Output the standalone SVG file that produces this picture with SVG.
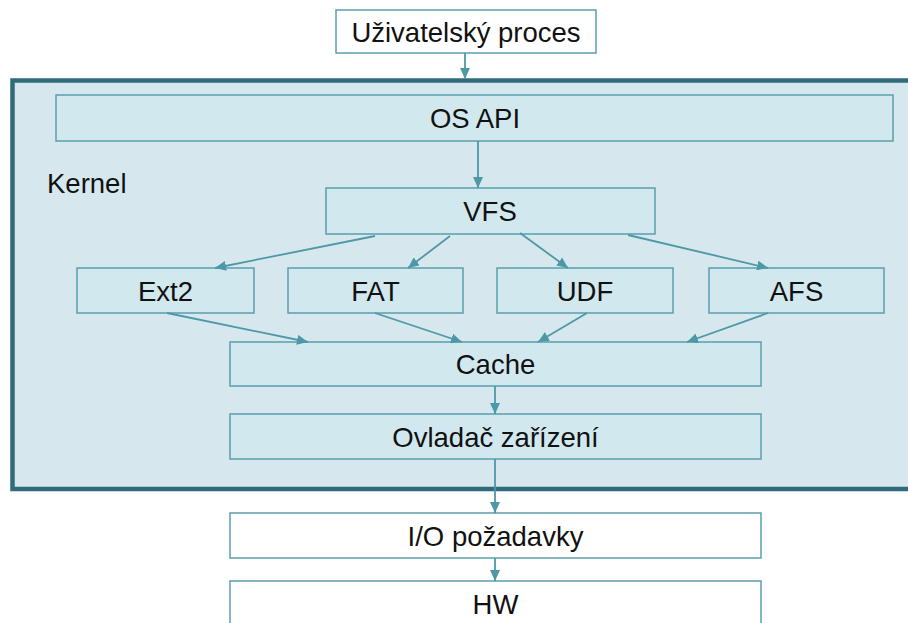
<svg xmlns="http://www.w3.org/2000/svg" width="908" height="623" viewBox="0 0 908 623">
<style>
.box{fill:#d1e8ef;stroke:#5a9fad;stroke-width:1.5}
.wbox{fill:#ffffff;stroke:#5a9fad;stroke-width:1.5}
.lbl{font-family:"Liberation Sans",Arial,sans-serif;font-size:27.5px;fill:#111;text-anchor:middle}
.con{stroke:#4d98a6;stroke-width:1.8;fill:none;marker-end:url(#ah)}
</style>
<defs>
<marker id="ah" markerUnits="userSpaceOnUse" markerWidth="12" markerHeight="10" refX="11" refY="5" orient="auto">
<path d="M0,0 L11,5 L0,10 Z" fill="#4d98a6"/>
</marker>
</defs>
<rect width="908" height="623" fill="#ffffff"/>
<g id="kernel">
<rect x="12.5" y="80.5" width="910" height="408.5" fill="#d6e8ee" stroke="#2f6b7b" stroke-width="4.5"/>
<text x="47" y="193" font-family="Liberation Sans,Arial,sans-serif" font-size="27.5" fill="#111">Kernel</text>
</g>
<g id="user">
<rect class="wbox" x="336" y="10" width="260" height="43"/>
<text class="lbl" x="466" y="41.5">Uživatelský proces</text>
</g>
<g id="osapi">
<rect class="box" x="56" y="95" width="837" height="46"/>
<text class="lbl" x="475" y="128">OS API</text>
</g>
<g id="vfs">
<rect class="box" x="326" y="188" width="329" height="46"/>
<text class="lbl" x="490" y="221">VFS</text>
</g>
<g id="ext2">
<rect class="box" x="77" y="268" width="177" height="45"/>
<text class="lbl" x="165.5" y="300.5">Ext2</text>
</g>
<g id="fat">
<rect class="box" x="288" y="268" width="175" height="45"/>
<text class="lbl" x="375.5" y="300.5">FAT</text>
</g>
<g id="udf">
<rect class="box" x="497" y="268" width="176" height="45"/>
<text class="lbl" x="585" y="300.5">UDF</text>
</g>
<g id="afs">
<rect class="box" x="709" y="268" width="175" height="45"/>
<text class="lbl" x="796.5" y="300.5">AFS</text>
</g>
<g id="cache">
<rect class="box" x="230" y="342" width="531" height="44"/>
<text class="lbl" x="495.5" y="374">Cache</text>
</g>
<g id="driver">
<rect class="box" x="230" y="414" width="531" height="45"/>
<text class="lbl" x="495.5" y="446.5">Ovladač zařízení</text>
</g>
<g id="io">
<rect class="wbox" x="230" y="513" width="531" height="45"/>
<text class="lbl" x="495.5" y="545.5">I/O požadavky</text>
</g>
<g id="hw">
<rect class="wbox" x="230" y="581" width="531" height="60"/>
<text class="lbl" x="495.5" y="614">HW</text>
</g>
<g id="connectors">
<line class="con" x1="465" y1="53" x2="465" y2="79"/>
<line class="con" x1="478" y1="141" x2="478" y2="188"/>
<line class="con" x1="375" y1="236" x2="215" y2="268"/>
<line class="con" x1="450" y1="236" x2="408" y2="268"/>
<line class="con" x1="520" y1="233" x2="568" y2="268"/>
<line class="con" x1="628" y1="235" x2="768" y2="268"/>
<line class="con" x1="167" y1="313" x2="308" y2="342"/>
<line class="con" x1="375" y1="313" x2="462" y2="342"/>
<line class="con" x1="587" y1="313" x2="538" y2="342"/>
<line class="con" x1="768" y1="313" x2="687" y2="342"/>
<line class="con" x1="495" y1="386" x2="495" y2="414"/>
<line class="con" x1="495" y1="459" x2="495" y2="513"/>
<line class="con" x1="495" y1="558" x2="495" y2="581"/>
</g>
</svg>
